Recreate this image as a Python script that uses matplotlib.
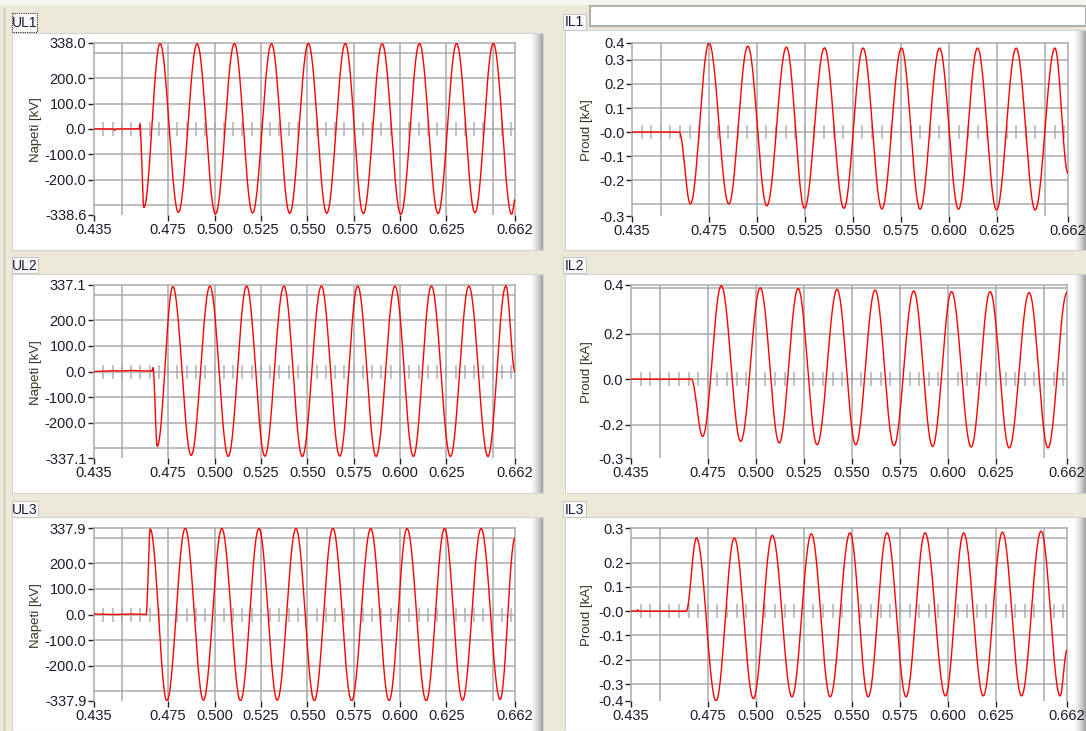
import numpy as np
import matplotlib.pyplot as plt
from matplotlib.patches import Rectangle

W, H = 1086, 731

# time axis (s)
x_min, x_max = 0.435, 0.662
x_grid = [0.450, 0.475, 0.500, 0.525, 0.550, 0.575, 0.600, 0.625, 0.650]
x_ticks = [0.435, 0.475, 0.500, 0.525, 0.550, 0.575, 0.600, 0.625, 0.662]
x_labels = ["0.435", "0.475", "0.500", "0.525", "0.550", "0.575", "0.600", "0.625", "0.662"]

# key points of each trace (time, value): flat part, onset, then extrema
ul1_t = [0.435, 0.4455, 0.4463, 0.4470, 0.4594, 0.4597, 0.4619,
         0.4706, 0.4805, 0.4906, 0.5005, 0.5107, 0.5205, 0.5307, 0.5405, 0.5506,
         0.5605, 0.5705, 0.5802, 0.5904, 0.6004, 0.6105, 0.6205, 0.6305, 0.6404,
         0.6503, 0.6602, 0.662]
ul1_v = [0, 0, -5, 0, 0, 18, -309,
         336, -328, 335, -335, 336, -331, 335, -332, 336,
         -332, 336, -333, 335, -336, 336, -333, 336, -330,
         337, -336, -278]

ul2_t = [0.435, 0.4450, 0.4500, 0.4550, 0.4600, 0.4663, 0.4668, 0.4691,
         0.4775, 0.4874, 0.4975, 0.5074, 0.5173, 0.5271, 0.5374, 0.5473, 0.5576,
         0.5675, 0.5772, 0.5871, 0.5973, 0.6072, 0.6169, 0.6272, 0.6371, 0.6474,
         0.6571, 0.662]
ul2_v = [0, 3, 2, 4, 2, 2, 15, -292,
         331, -327, 333, -331, 333, -330, 333, -331, 333,
         -330, 333, -331, 333, -331, 333, -331, 333, -331,
         334, 0]

ul3_t = [0.435, 0.4450, 0.4550, 0.4631, 0.4653,
         0.4743, 0.4842, 0.4940, 0.5039, 0.5140, 0.5239, 0.5338, 0.5439, 0.5538,
         0.5638, 0.5739, 0.5842, 0.5941, 0.6038, 0.6141, 0.6240, 0.6337, 0.6437,
         0.6540, 0.662]
ul3_v = [2, 0, 2, 0, 334,
         -338, 337, -335, 336, -337, 336, -335, 336, -337,
         337, -337, 336, -337, 336, -337, 336, -335, 336,
         -332, 299]

il1_t = [0.435, 0.4596, 0.4654,
         0.4751, 0.4854, 0.4953, 0.5052, 0.5154, 0.5248, 0.5352, 0.5453, 0.5553,
         0.5651, 0.5753, 0.5850, 0.5951, 0.6050, 0.6149, 0.6248, 0.6350, 0.6449,
         0.6552, 0.662]
il1_v = [0, 0, -0.298,
         0.370, -0.298, 0.357, -0.306, 0.353, -0.316, 0.350, -0.316, 0.349,
         -0.319, 0.349, -0.320, 0.349, -0.320, 0.349, -0.323, 0.349, -0.323,
         0.349, -0.171]

il2_t = [0.435, 0.4664, 0.4723,
         0.4820, 0.4921, 0.5023, 0.5122, 0.5220, 0.5319, 0.5423, 0.5520, 0.5621,
         0.5719, 0.5822, 0.5920, 0.6019, 0.6121, 0.6220, 0.6319, 0.6423, 0.6521,
         0.662]
il2_v = [0, 0, -0.251,
         0.410, -0.273, 0.401, -0.280, 0.398, -0.288, 0.394, -0.288, 0.391,
         -0.292, 0.387, -0.295, 0.384, -0.298, 0.384, -0.302, 0.380, -0.302,
         0.380]

il3_t = [0.435, 0.4380, 0.4385, 0.4390, 0.4637,
         0.4691, 0.4793, 0.4888, 0.4987, 0.5086, 0.5188, 0.5289, 0.5387, 0.5490,
         0.5585, 0.5683, 0.5782, 0.5881, 0.5987, 0.6082, 0.6184, 0.6284, 0.6383,
         0.6485, 0.6584, 0.662]
il3_v = [0, 0, 0.006, 0, 0,
         0.302, -0.370, 0.302, -0.360, 0.313, -0.353, 0.319, -0.353, 0.323,
         -0.353, 0.323, -0.353, 0.323, -0.349, 0.323, -0.349, 0.326, -0.349,
         0.330, -0.349, -0.160]

# y axes: range, grid lines, labelled ticks
ul1_ylim = (-338.6, 338.0)
ul2_ylim = (-337.1, 337.1)
ul3_ylim = (-337.9, 337.9)
ul_grid = [-300, -200, -100, 0, 100, 200, 300]
ul_ticks_mid = [-200, -100, 0, 100, 200]
ul_labels_mid = ["-200.0", "-100.0", "0.0", "100.0", "200.0"]

il1_ylim = (-0.348, 0.370)
il1_grid = [-0.3, -0.2, -0.1, 0.0, 0.1, 0.2, 0.3]
il1_ticks = [-0.348, -0.2, -0.1, 0.0, 0.1, 0.2, 0.3, 0.370]
il1_labels = ["-0.3", "-0.2", "-0.1", "-0.0", "0.1", "0.2", "0.3", "0.4"]

il2_ylim = (-0.346, 0.413)
il2_grid = [-0.2, 0.0, 0.2, 0.4]
il2_ticks = [-0.346, -0.2, 0.0, 0.2, 0.413]
il2_labels = ["-0.3", "-0.2", "0.0", "0.2", "0.4"]

il3_ylim = (-0.370, 0.343)
il3_grid = [-0.3, -0.2, -0.1, 0.0, 0.1, 0.2, 0.3]
il3_ticks = [-0.370, -0.3, -0.2, -0.1, 0.0, 0.1, 0.2, 0.343]
il3_labels = ["-0.4", "-0.3", "-0.2", "-0.1", "-0.0", "0.1", "0.2", "0.3"]

BG = "#ece9d8"
GRID = "#ababab"
TXT = "#1c1c2c"
FONT = "Liberation Sans"


def trace(ts, vs, n=30):
    # half-cosine between consecutive key points
    xs, ys = [], []
    for i in range(len(ts) - 1):
        s = np.linspace(0, 1, n, endpoint=False)
        xs.append(ts[i] + s * (ts[i + 1] - ts[i]))
        ys.append(vs[i] + (vs[i + 1] - vs[i]) * (1 - np.cos(np.pi * s)) / 2)
    xs.append([ts[-1]])
    ys.append([vs[-1]])
    return np.concatenate(xs), np.concatenate(ys)


fig = plt.figure(figsize=(W / 100, H / 100), dpi=100, facecolor=BG)

# background layer in pixel coordinates
bg = fig.add_axes([0, 0, 1, 1])
bg.set_xlim(0, W)
bg.set_ylim(H, 0)
bg.axis("off")
bg.add_patch(Rectangle((0, 0), W, 5, fc="#f6f5ef", ec="none"))
bg.plot([4, 4], [8, H], color="#c8c5b8", lw=1)


def panel(x0, y0, x1, y1):
    bg.add_patch(Rectangle((x0, y0), x1 - x0, y1 - y0, fc="white", ec="#d4d4d4", lw=0.8))
    n = 14
    for i in range(n):
        g = 1 - 0.36 * (i / (n - 1)) ** 1.6
        bg.add_patch(Rectangle((x1 - n + i, y0 + 1), 1.05, y1 - y0 - 1,
                               fc=(g, g, g), ec="none"))


def tag(x0, y0, x1, y1, text, dotted=False):
    bg.add_patch(Rectangle((x0, y0), x1 - x0, y1 - y0, fc="#fafafa",
                           ec="#303030" if dotted else "#c8c8c8",
                           lw=0.8, ls=(0, (1, 1)) if dotted else "-"))
    bg.text((x0 + x1) / 2, (y0 + y1) / 2 + 0.5, text, ha="center", va="center",
            fontsize=10, color="#1a1a3a", family=FONT)


panel(12, 33, 543, 250)
panel(565, 30, 1086, 250)
panel(12, 274, 543, 493)
panel(565, 274, 1086, 493)
panel(12, 517, 543, 731)
panel(565, 517, 1086, 731)

# empty text field above IL1
bg.add_patch(Rectangle((590, 6), 496, 20, fc="white", ec="#b0b0b0", lw=1.5))

tag(12, 13, 37, 32, "UL1", dotted=True)
tag(563, 14, 586, 30, "IL1")
tag(12, 257, 38, 273, "UL2")
tag(563, 257, 586, 273, "IL2")
tag(12, 501, 38, 517, "UL3")
tag(563, 501, 586, 517, "IL3")

charts = [
    # name, trace, axes box (px), ylim, grid, ticks, labels, ylabel, label pos
    ("UL1", ul1_t, ul1_v, (94, 43, 515, 215), ul1_ylim, ul_grid,
     [ul1_ylim[0]] + ul_ticks_mid + [ul1_ylim[1]],
     ["-338.6"] + ul_labels_mid + ["338.0"], "Napeti [kV]", (36, 130)),
    ("IL1", il1_t, il1_v, (632, 43, 1068, 216), il1_ylim, il1_grid,
     il1_ticks, il1_labels, "Proud [kA]", (587, 130)),
    ("UL2", ul2_t, ul2_v, (94, 285, 515, 458), ul2_ylim, ul_grid,
     [ul2_ylim[0]] + ul_ticks_mid + [ul2_ylim[1]],
     ["-337.1"] + ul_labels_mid + ["337.1"], "Napeti [kV]", (36, 373)),
    ("IL2", il2_t, il2_v, (631, 285, 1067, 458), il2_ylim, il2_grid,
     il2_ticks, il2_labels, "Proud [kA]", (587, 372)),
    ("UL3", ul3_t, ul3_v, (94, 528, 515, 701), ul3_ylim, ul_grid,
     [ul3_ylim[0]] + ul_ticks_mid + [ul3_ylim[1]],
     ["-337.9"] + ul_labels_mid + ["337.9"], "Napeti [kV]", (36, 616)),
    ("IL3", il3_t, il3_v, (631, 528, 1067, 701), il3_ylim, il3_grid,
     il3_ticks, il3_labels, "Proud [kA]", (587, 615)),
]

zero_marks = np.round(np.arange(0.440, 0.6601, 0.005), 3)

for name, ts, vs, box, ylim, grid, yt, yl, ylab, lpos in charts:
    x0, y0, x1, y1 = box
    ax = fig.add_axes([x0 / W, 1 - y1 / H, (x1 - x0) / W, (y1 - y0) / H])
    ax.set_facecolor("none")
    ax.set_xlim(x_min, x_max)
    ax.set_ylim(*ylim)

    # grid lines sit on minor ticks, which may coincide with labelled ticks
    ax.xaxis.remove_overlapping_locs = False
    ax.yaxis.remove_overlapping_locs = False
    ax.set_xticks(x_ticks)
    ax.set_xticklabels(x_labels)
    ax.set_yticks(yt)
    ax.set_yticklabels(yl)
    ax.set_xticks(x_grid, minor=True)
    ax.set_yticks(grid, minor=True)
    ax.grid(which="minor", color=GRID, lw=1.1)
    ax.grid(which="major", visible=False)
    ax.tick_params(which="minor", length=0)
    ax.tick_params(which="major", length=4, width=1, color="#202020",
                   labelsize=10.5, labelcolor=TXT, pad=1.5)
    for lab in ax.get_xticklabels() + ax.get_yticklabels():
        lab.set_family(FONT)

    for side in ["left", "top", "right"]:
        ax.spines[side].set_color(GRID)
        ax.spines[side].set_linewidth(1.1)
    ax.spines["bottom"].set_visible(False)

    # small marks along the zero line
    z = (0 - ylim[0]) / (ylim[1] - ylim[0])
    h = 7 / (y1 - y0)
    ax.vlines(zero_marks, z - h, z + h, color="#b0b0b0", lw=1.1,
              transform=ax.get_xaxis_transform(), zorder=1)

    tx, ty = trace(ts, vs)
    ax.plot(tx, ty, color="#ff0000", lw=1.0, zorder=3, clip_on=True)

    bg.text(lpos[0], lpos[1], ylab, rotation=90, ha="center", va="center",
            fontsize=9.5, color="#3a3322", family=FONT)

fig.savefig("out.png", dpi=100, facecolor=BG)
